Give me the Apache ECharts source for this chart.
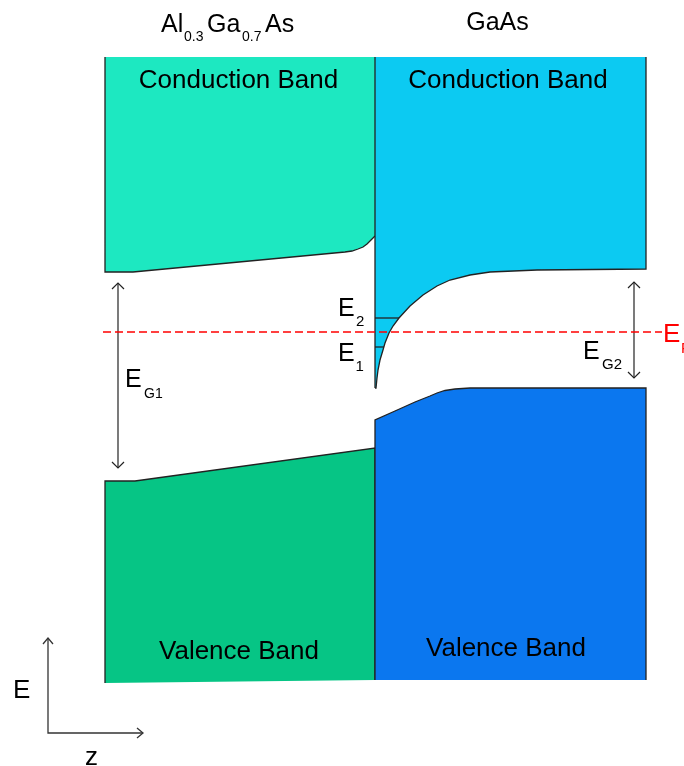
<!DOCTYPE html>
<html><head><meta charset="utf-8">
<script src="https://cdn.jsdelivr.net/npm/echarts@6/dist/echarts.min.js"></script>
<style>html,body{margin:0;padding:0;background:#fff}#c{width:684px;height:766px}</style>
</head><body><div id="c"></div>
<script>
// ---- Data: z = position relative to the heterointerface, E = energy relative to E_F (schematic units)
const zLeft = -270, zJunction = 0, zRight = 271;
const eTop = 275;
const eBottomLeft = -351, eBottomRight = -348;
// AlGaAs conduction band edge (left to right)
const alGaAsCB = [[-270,60],[-242,60],[-30,80],[-23,81],[-17,83],[-12,85],[-8,88],[-4,92],[0,96]];
// GaAs conduction band edge (interface to right)
const gaAsCB = [[0,-56],[1,-56],[2,-46],[3,-38],[5,-28],[8,-18],[10,-11],[14,-1],[18,6],[24,14],[35,26],[48,37],[62,46],[75,52],[95,57],[115,60],[162,62],[271,63]];
// AlGaAs valence band edge
const alGaAsVB = [[-270,-149],[-240,-149],[0,-116]];
// GaAs valence band edge
const gaAsVB = [[0,-88],[20,-79],[40,-70],[55,-64],[62,-61],[70,-58.5],[80,-57],[95,-56],[271,-56]];
const fermiLevel = 0;
const fermiRange = [-272, 287];
const subbandLevels = [-15, 14];          // E1, E2
const gapArrows = [[-257, 49, -136], [259, 50, -46]];  // [z, E upper, E lower] for E_G1, E_G2

// ---- Styles
const FONT = '"Liberation Sans", Arial, Helvetica, sans-serif';
const EDGE = '#222';
const colors = {alCB:'#1de8c1', gaCB:'#0ccaf2', alVB:'#06c585', gaVB:'#0b77ef'};

function bandSeries(fillPts, lines, color){
  return {
    type:'custom', coordinateSystem:'cartesian2d', data:[[0,0]], silent:true, z:2, animation:false,
    renderItem(params, api){
      const children = [{type:'polygon', shape:{points: fillPts.map(p=>api.coord(p))}, style:{fill:color}}];
      lines.forEach(l => children.push({type:'polyline', shape:{points:l.map(p=>api.coord(p))}, style:{stroke:EDGE, lineWidth:1.3, fill:null}}));
      return {type:'group', children};
    }
  };
}

const revCB = alGaAsCB.slice().reverse();
const revGaCB = gaAsCB.slice().reverse();

function crossZ(curve, E){
  for(let i=0;i<curve.length-1;i++){
    const [z1,e1]=curve[i],[z2,e2]=curve[i+1];
    if((E-e1)*(E-e2)<=0 && e1!==e2) return z1+(E-e1)*(z2-z1)/(e2-e1);
  }
  return 0;
}

const series = [
  bandSeries([[zLeft,eTop],[zJunction,eTop],...revCB], [[[zLeft,eTop],...alGaAsCB]], colors.alCB),
  bandSeries([[zJunction,eTop],[zRight,eTop],...revGaCB], [[...gaAsCB,[zRight,eTop]]], colors.gaCB),
  bandSeries([...alGaAsVB,[zJunction,eBottomRight],[zLeft,eBottomLeft]], [[[zLeft,eBottomLeft],...alGaAsVB,[zJunction,eBottomRight]]], colors.alVB),
  bandSeries([...gaAsVB,[zRight,eBottomRight],[zJunction,eBottomRight]], [[[zJunction,eBottomRight],...gaAsVB,[zRight,eBottomRight]]], colors.gaVB),
  // interface line
  {type:'line', data:[[zJunction,eTop],[zJunction,gaAsCB[0][1]]], symbol:'none', silent:true, z:3, animation:false,
   lineStyle:{color:EDGE, width:1.3}},
  // subband levels
  ...subbandLevels.map(E => ({type:'line', data:[[zJunction,E],[crossZ(gaAsCB,E),E]], symbol:'none', silent:true, z:3, animation:false,
   lineStyle:{color:EDGE, width:1.3}})),
  // Fermi level
  {type:'line', data:fermiRange.map(z=>[z,fermiLevel]), symbol:'none', silent:true, z:5, animation:false,
   lineStyle:{color:'#f00', width:1.5, type:[8,4]}},
  // band gap arrows
  {type:'custom', coordinateSystem:'cartesian2d', data:gapArrows, silent:true, z:4, animation:false,
   renderItem(params, api){
     const z=api.value(0), top=api.coord([z,api.value(1)]), bot=api.coord([z,api.value(2)]);
     const s={stroke:'#222', lineWidth:1.2, fill:null};
     return {type:'group', children:[
       {type:'line', shape:{x1:top[0],y1:top[1],x2:bot[0],y2:bot[1]}, style:s},
       {type:'polyline', shape:{points:[[top[0]-6,top[1]+6],top,[top[0]+6,top[1]+6]]}, style:s},
       {type:'polyline', shape:{points:[[bot[0]-6,bot[1]-6],bot,[bot[0]+6,bot[1]-6]]}, style:s}
     ]};
   }}
];

const DY = 3;
function T(text, x, y, size, align, color){
  return {type:'text', x, y:y+DY, z:100, silent:true,
    style:{text, fontSize:size, fontFamily:FONT, fill:color||'#000', align:align||'left', verticalAlign:'middle'}};
}

const graphic = [
  T('Al',161,22,25), T('0.3',184,34,14), T('Ga',207,22,25), T('0.7',242,34,14), T('As',265,22,25),
  T('GaAs',497.5,20,25,'center'),
  T('Conduction Band',238.5,78,26,'center'), T('Conduction Band',508,78,26,'center'),
  T('Valence Band',239,649,26,'center'), T('Valence Band',506,646,26,'center'),
  T('E',338,306,25), T('2',356,319,15),
  T('E',338,351,25), T('1',355.5,364,15),
  T('E',663,332,26,'left','#f00'), T('F',681,346,15,'left','#f00'),
  T('E',125,377.5,25), T('G1',144,391,14),
  T('E',583,349,25), T('G2',602,362,15),
  T('E',13,687.5,26), T('z',91.5,755,26,'center'),
  {type:'polyline', silent:true, shape:{points:[[48,638],[48,733],[143,733]]}, style:{stroke:'#333', lineWidth:1.3, fill:null}},
  {type:'polyline', silent:true, shape:{points:[[43,644],[48,638],[53,644]]}, style:{stroke:'#333', lineWidth:1.3, fill:null}},
  {type:'polyline', silent:true, shape:{points:[[137,728],[143,733],[137,738]]}, style:{stroke:'#333', lineWidth:1.3, fill:null}}
];

const chart = echarts.init(document.getElementById('c'), null, {renderer:'canvas'});
chart.setOption({
  animation:false,
  grid:{left:0,right:0,top:0,bottom:0},
  xAxis:{type:'value', min:-375, max:309, show:false},
  yAxis:{type:'value', min:-434, max:332, show:false},
  series,
  graphic
});
</script></body></html>
